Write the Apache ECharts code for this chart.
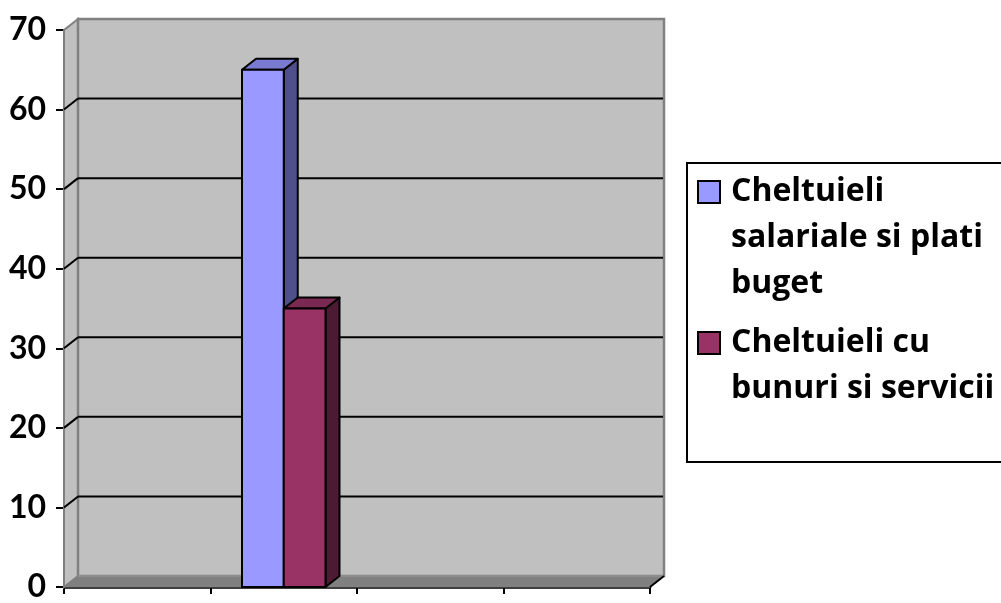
<!DOCTYPE html>
<html><head><meta charset="utf-8">
<script src="https://cdn.jsdelivr.net/npm/echarts@6/dist/echarts.min.js"></script>
<style>html,body{margin:0;padding:0;background:#fff}#c{width:1001px;height:603px}</style>
</head><body><div id="c"></div>
<script>
// ---- data ----
const categories = ['', '', '', ''];
const seriesNames = ['Cheltuieli salariale si plati buget', 'Cheltuieli cu bunuri si servicii'];
const legendLines = [['Cheltuieli', 'salariale si plati', 'buget'], ['Cheltuieli cu', 'bunuri si servicii']];
const salariiValues = [null, 65, null, null];
const bunuriValues = [null, 35, null, null];
const yMin = 0, yMax = 70, yStep = 10;

// ---- style ----
const DX = 14, DY = -11;
const AXIS_FONT = 'Lato';
const LEGEND_FONT = 'Open Sans';
const LH = 46;
const palette = [
  {front: '#9999FF', top: '#7a7ad0', side: '#4f4f8c'},
  {front: '#993366', top: '#7a2952', side: '#4c1a33'}
];

function toPairs(arr){ const out=[]; arr.forEach((v,i)=>{ if(v!=null) out.push([i,v]); }); return out; }

function wallRender(params, api){
  const cs = params.coordSys;
  const L = cs.x, R = cs.x + cs.width, T = cs.y, B = cs.y + cs.height;
  const gray = '#808080', wall = '#C0C0C0';
  const ch = [];
  ch.push({type:'polygon', shape:{points:[[L,T],[L+DX,T+DY],[L+DX,B+DY],[L,B]]}, style:{fill:wall, stroke:gray, lineWidth:2}});
  ch.push({type:'rect', shape:{x:L+DX, y:T+DY, width:cs.width, height:cs.height}, style:{fill:wall, stroke:gray, lineWidth:2.5}});
  ch.push({type:'polygon', shape:{points:[[L,B],[L+DX,B+DY],[R+DX,B+DY],[R,B]]}, style:{fill:gray, stroke:gray, lineWidth:1}});
  ch.push({type:'line', shape:{x1:L+DX, y1:B+DY, x2:R+DX, y2:B+DY}, style:{stroke:'#9a9a9a', lineWidth:1}});
  ch.push({type:'line', shape:{x1:R, y1:B, x2:R+DX, y2:B+DY}, style:{stroke:'#000', lineWidth:2}});
  for (let v = yMin + yStep; v < yMax; v += yStep){
    const y = api.coord([0, v])[1];
    ch.push({type:'line', shape:{x1:L+DX, y1:y+DY, x2:R+DX-1, y2:y+DY}, style:{stroke:'#000', lineWidth:2}});
    ch.push({type:'line', shape:{x1:L, y1:y, x2:L+DX, y2:y+DY}, style:{stroke:'#000', lineWidth:2}});
  }
  return {type:'group', children:ch};
}

function barRender(idx){
  const c = palette[idx];
  return function(params, api){
    const cat = api.value(0), val = api.value(1);
    const top = api.coord([cat, val]);
    const base = api.coord([cat, 0]);
    const band = api.size([1, 0])[0];
    const w = band * 0.285;
    const x0 = top[0] + (idx - 1) * w, x1 = x0 + w;
    const yT = top[1], yB = base[1];
    const st = {stroke:'#000', lineWidth:2, lineJoin:'round'};
    return {type:'group', children:[
      {type:'polygon', shape:{points:[[x1,yT],[x1+DX,yT+DY],[x1+DX,yB+DY],[x1,yB]]}, style:Object.assign({fill:c.side}, st)},
      {type:'polygon', shape:{points:[[x0,yT],[x0+DX,yT+DY],[x1+DX,yT+DY],[x1,yT]]}, style:Object.assign({fill:c.top}, st)},
      {type:'rect', shape:{x:x0, y:yT, width:w, height:yB-yT}, style:Object.assign({fill:c.front}, st)}
    ]};
  };
}

// icon is centred on the text block: prepend (n-1) blank lines so the first real line sits beside the icon
function legendCfg(i, top){
  const lines = legendLines[i];
  const pad = new Array(lines.length - 1).fill('{t| }');
  const txt = pad.concat(lines.map(l => '{t|' + l + '}')).join('\n');
  return {
    data: [seriesNames[i]], left: 697, top: top, padding: 0, orient: 'vertical',
    selectedMode: false, icon: 'rect', itemWidth: 22, itemHeight: 22,
    itemStyle: {borderColor: '#000', borderWidth: 2},
    formatter: () => txt,
    textStyle: {fontFamily: LEGEND_FONT, fontWeight: 'bold', fontSize: 32, lineHeight: LH, color: '#000',
      rich: {t: {fontFamily: LEGEND_FONT, fontWeight: 'bold', fontSize: 32, lineHeight: LH, color: '#000', padding: [0,0,0,6]}}}
  };
}

const chart = echarts.init(document.getElementById('c'), null, {renderer:'canvas'});
chart.setOption({
  animation: false,
  backgroundColor: '#fff',
  grid: {left: 64, top: 30, right: 351, bottom: 7, containLabel: false},
  xAxis: {type:'category', data: categories, boundaryGap: true,
    axisLine: {show:true, lineStyle:{color:'#000', width:2.5}},
    axisTick: {show:true, length:7, lineStyle:{color:'#000', width:2}},
    axisLabel: {show:false}, splitLine:{show:false}},
  yAxis: {type:'value', min:yMin, max:yMax, interval:yStep,
    axisLine: {show:true, lineStyle:{color:'#000', width:2}},
    axisTick: {show:true, length:8, lineStyle:{color:'#000', width:2}},
    axisLabel: {fontFamily:AXIS_FONT, fontWeight:'bold', fontSize:32, color:'#000', margin:18},
    splitLine: {show:false}},
  graphic: [{type:'rect', left:686, top:162, z:0,
    shape:{width:340, height:299}, style:{fill:'#fff', stroke:'#000', lineWidth:2}}],
  legend: [legendCfg(0, 77), legendCfg(1, 274)],
  series: [
    {type:'custom', name:'_wall', renderItem: wallRender, data:[[0,0]], z:1, silent:true, clip:false},
    {type:'custom', name: seriesNames[0], renderItem: barRender(0), data: toPairs(salariiValues),
      itemStyle:{color: palette[0].front}, encode:{x:0, y:1}, z:2, clip:false},
    {type:'custom', name: seriesNames[1], renderItem: barRender(1), data: toPairs(bunuriValues),
      itemStyle:{color: palette[1].front}, encode:{x:0, y:1}, z:3, clip:false}
  ]
});
</script>
</body></html>
